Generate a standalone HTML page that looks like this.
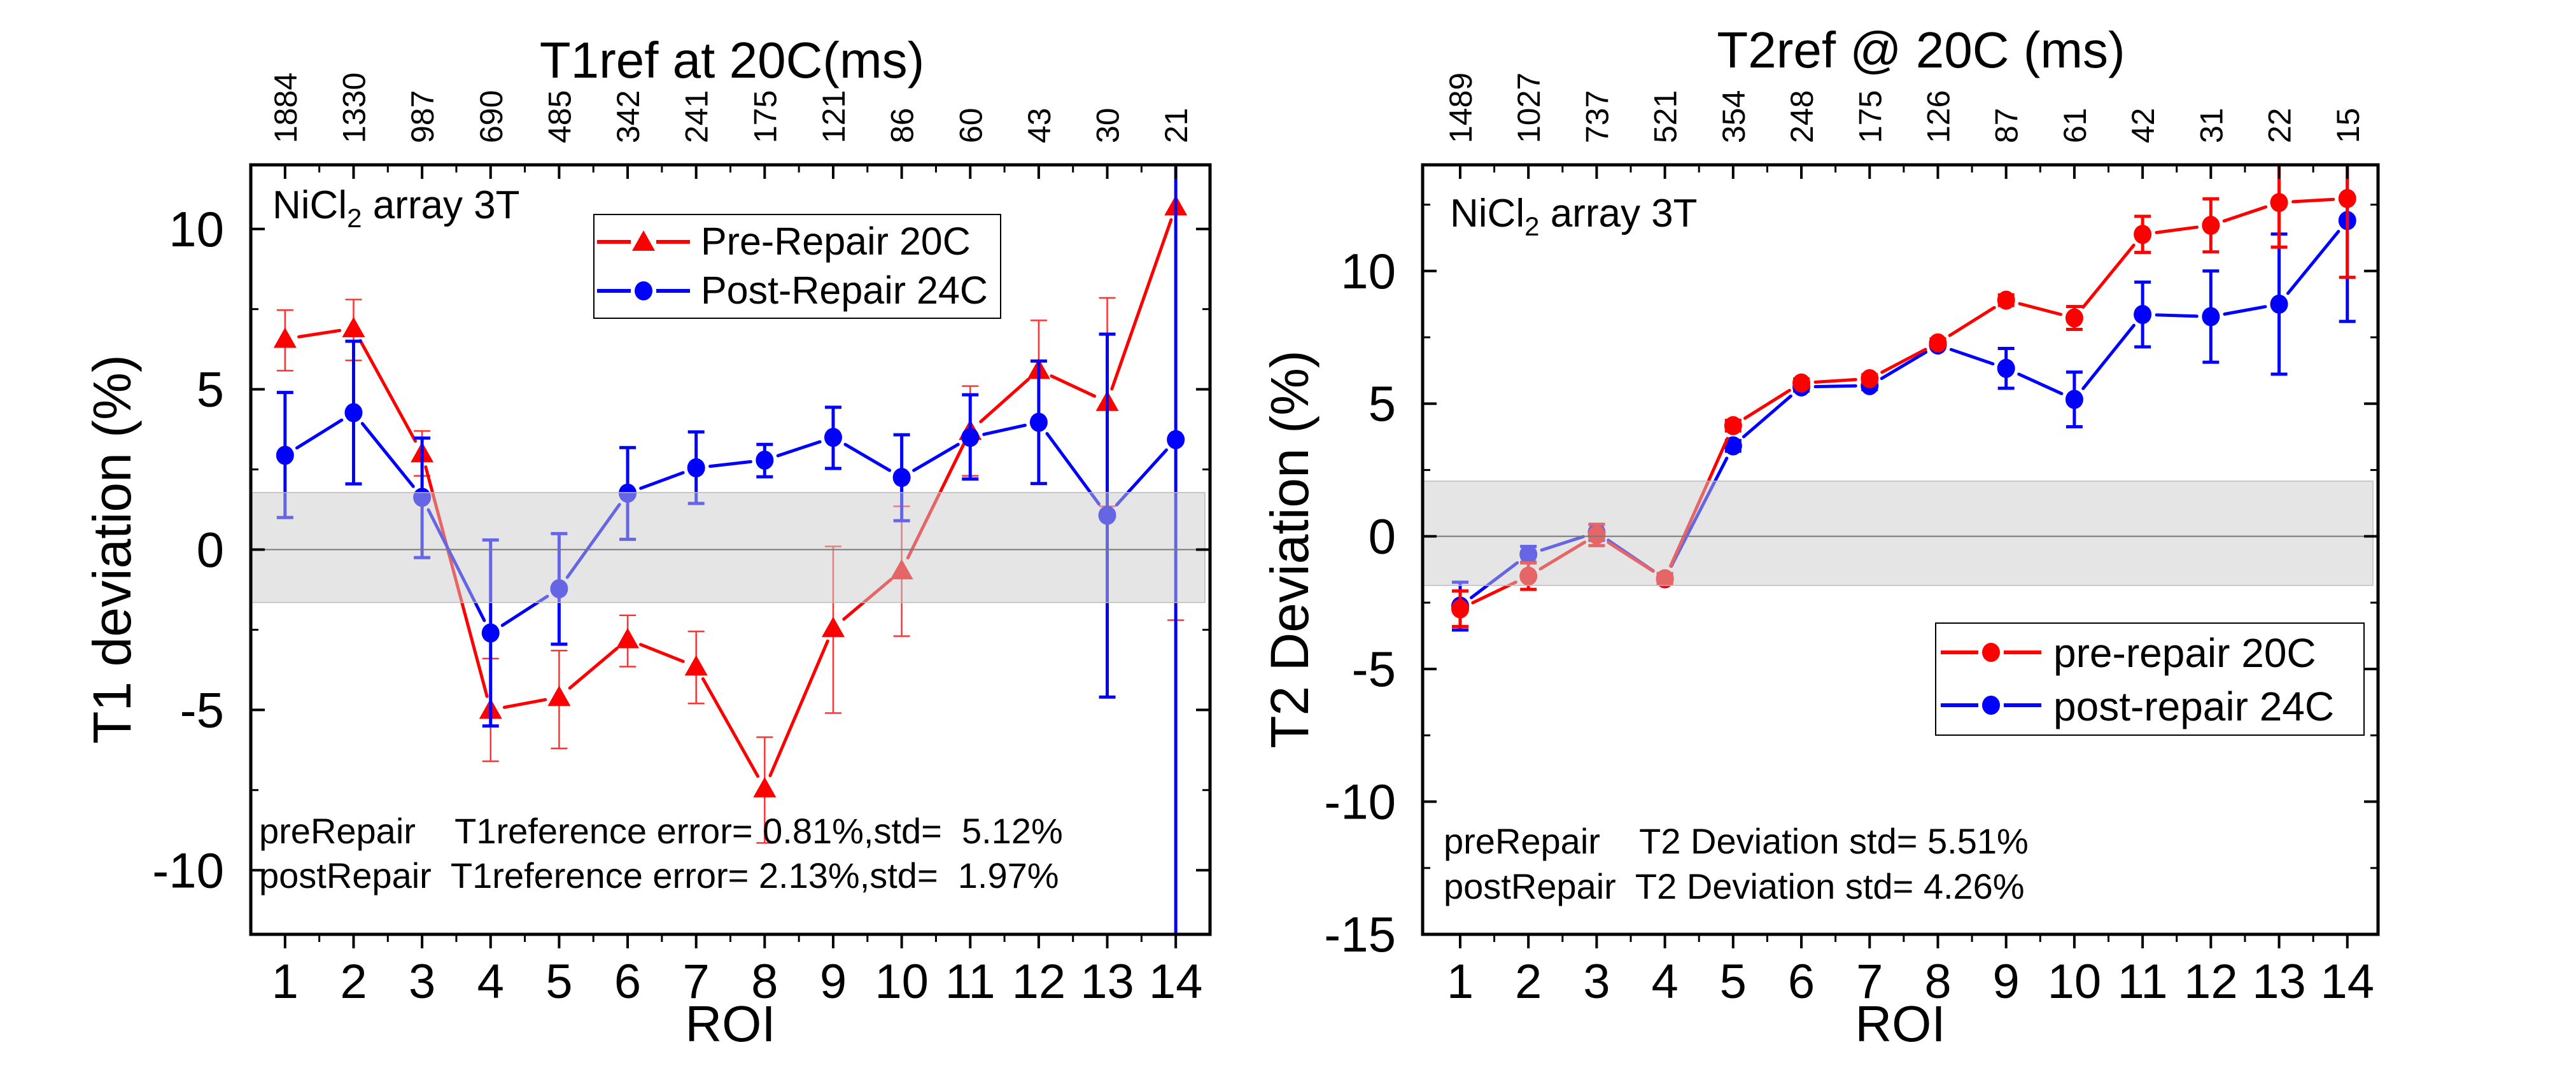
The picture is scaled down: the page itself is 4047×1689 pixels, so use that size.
<!DOCTYPE html>
<html><head><meta charset="utf-8"><title>T1/T2 deviation</title>
<style>
html,body{margin:0;padding:0;background:#fff;overflow:hidden;width:4047px;height:1689px;}
svg{display:block;position:absolute;left:0;top:0;}
.n{font-family:"Liberation Sans Narrow","Liberation Sans",sans-serif;}
.r{font-family:"Liberation Sans",sans-serif;}
</style></head>
<body>
<svg id="chart" width="4047" height="1689" viewBox="0 0 4047 1689" xmlns="http://www.w3.org/2000/svg">
<rect width="4047" height="1689" fill="#fff"/>
</svg>
<script>
// ---- data ----
const roi = [1,2,3,4,5,6,7,8,9,10,11,12,13,14];
const t1Ref = ["1884","1330","987","690","485","342","241","175","121","86","60","43","30","21"];
const t2Ref = ["1489","1027","737","521","354","248","175","126","87","61","42","31","22","15"];
const t1Pre = [6.57,6.9,3.0,-5.0,-4.6,-2.8,-3.65,-7.45,-2.45,-0.65,3.7,5.6,4.6,10.7];
const t1PreHi = [7.47,7.8,3.7,-3.4,-3.15,-2.05,-2.55,-5.85,0.1,1.35,5.1,7.15,7.85,23.6];
const t1PreLo = [5.58,5.9,2.3,-6.6,-6.2,-3.65,-4.8,-9.15,-5.1,-2.7,2.3,4.05,1.35,-2.2];
const t1Post = [2.94,4.27,1.63,-2.6,-1.22,1.76,2.55,2.79,3.5,2.25,3.5,3.97,1.07,3.43];
const t1PostHi = [4.9,6.5,3.48,0.3,0.5,3.18,3.67,3.28,4.44,3.58,4.83,5.88,6.72,25];
const t1PostLo = [1.0,2.05,-0.25,-5.5,-2.95,0.32,1.44,2.27,2.53,0.9,2.2,2.06,-4.6,-20];
const t2Pre = [-2.73,-1.5,0.05,-1.6,4.17,5.78,5.94,7.29,8.9,8.23,11.38,11.72,12.58,12.73];
const t2PreErr = [0.67,0.5,0.4,0.2,0.2,0.15,0.15,0.15,0.2,0.43,0.68,1.0,1.68,2.97];
const t2Post = [-2.63,-0.68,0.15,-1.6,3.41,5.63,5.68,7.21,6.33,5.16,8.36,8.28,8.75,11.9];
const t2PostErr = [0.9,0.3,0.3,0.15,0.2,0.15,0.15,0.1,0.75,1.03,1.22,1.72,2.64,3.8];
const t1Ticks = [-10,-5,0,5,10];
const t2Ticks = [-15,-10,-5,0,5,10];

const svg = document.getElementById('chart');
const NS = 'http://www.w3.org/2000/svg';
function mk(tag, attrs, parent){
  const e = document.createElementNS(NS, tag);
  for (const k in attrs) e.setAttribute(k, attrs[k]);
  (parent||svg).appendChild(e);
  return e;
}
function line(g,x1,y1,x2,y2,c,w){return mk('line',{x1,y1,x2,y2,stroke:c,'stroke-width':w},g);}

function panel(cfg){
  const g = mk('g',{});
  
  
  const L=cfg.L,R=cfg.R,T=259,B=1468;
  const sx = v => L + (v - cfg.x0)/(cfg.x1-cfg.x0)*(R-L);
  const sy = v => B - (v - cfg.y0)/(cfg.y1-cfg.y0)*(B-T);
  const clipId = cfg.name+'-clip';
  const cp = mk('clipPath',{id:clipId},g);
  mk('rect',{x:L,y:T,width:R-L,height:B-T},cp);
  const plot = mk('g',{'clip-path':'url(#'+clipId+')'},g);
  
  

  function series(vals,hi,lo,color,marker,ew,capw,errOpacity,nm){
    const sg = mk('g',{},plot);
    
    
    vals.forEach((v,i)=>{
      const x=sx(roi[i]);
      const e=mk('g',{opacity:errOpacity},sg);
      
      
      line(e,x,sy(hi[i]),x,sy(lo[i]),color,ew);
      line(e,x-capw/2,sy(hi[i]),x+capw/2,sy(hi[i]),color,ew);
      line(e,x-capw/2,sy(lo[i]),x+capw/2,sy(lo[i]),color,ew);
    });
    for(let i=0;i<vals.length-1;i++){
      const xa=sx(roi[i]),ya=sy(vals[i]),xb=sx(roi[i+1]),yb=sy(vals[i+1]);
      const d=Math.hypot(xb-xa,yb-ya),gap=22;
      const ux=(xb-xa)/d,uy=(yb-ya)/d;
      const s=line(sg,xa+ux*gap,ya+uy*gap,xb-ux*gap,yb-uy*gap,color,5);
      s.setAttribute('stroke-linecap','round');
      
      
    }
    vals.forEach((v,i)=>{
      const x=sx(roi[i]),y=sy(v);
      let m;
      if(marker==='tri') m=mk('polygon',{points:`${x-18},${y+14} ${x+18},${y+14} ${x},${y-18}`,fill:color},sg);
      else m=mk('ellipse',{cx:x,cy:y,rx:14,ry:15,fill:color},sg);
      
      
    });
  }
  cfg.series(series, sx, sy);
  const band=mk('rect',{x:L,y:sy(cfg.band[1]),width:R-L-8,height:sy(cfg.band[0])-sy(cfg.band[1]),fill:'#cccccc','fill-opacity':0.5,stroke:'#bbb','stroke-width':1.5},plot);
  
  
  line(plot,L,sy(0),R,sy(0),'#777',2);

  const fr=mk('rect',{x:L,y:T,width:R-L,height:B-T,fill:'none',stroke:'#000','stroke-width':5},g);
  
  
  roi.forEach((r,i)=>{
    const x=sx(r);
    line(g,x,B,x,B+22,'#000',4);
    line(g,x,T,x,T+22,'#000',4);
    if(i<roi.length-1){const xm=sx(r+0.5);line(g,xm,B,xm,B+12,'#000',3);line(g,xm,T,xm,T+12,'#000',3);}
    const t=mk('text',{x:x,y:1568,'text-anchor':'middle','font-size':76,class:'n'},g);
    t.textContent=r;
    
    
    const tt=mk('text',{x:0,y:0,'text-anchor':'start','font-size':50,class:'r',transform:`translate(${x+18},225) rotate(-90)`},g);
    tt.textContent=cfg.top[i];
    
    
  });
  cfg.yt.forEach(v=>{
    const y=sy(v);
    line(g,L,y,L+22,y,'#000',4);line(g,R,y,R-22,y,'#000',4);
    const mv=v+2.5; if(mv<cfg.y1){const ym=sy(mv);line(g,L,ym,L+12,ym,'#000',3);line(g,R,ym,R-12,ym,'#000',3);}
    const t=mk('text',{x:cfg.ylx,y:y+27,'text-anchor':'end','font-size':78,class:'n'},g);
    t.textContent=v;
    
    
  });
  const yt=mk('text',{x:0,y:0,'text-anchor':'middle','font-size':84,class:'r',transform:`translate(${cfg.ytx},${863}) rotate(-90)`},g);
  yt.textContent=cfg.ytitle;
  
  
  const xt=mk('text',{x:(L+R)/2,y:1636,'text-anchor':'middle','font-size':80,class:'n'},g);
  xt.textContent='ROI';
  
  
  const tt=mk('text',{x:cfg.ttx,y:cfg.tty,'text-anchor':'middle','font-size':80,class:'n'},g);
  tt.textContent=cfg.ttitle;
  
  
  const an=mk('text',{x:cfg.anx,y:cfg.any,'font-size':62,class:'n'},g);
  an.innerHTML='NiCl<tspan font-size="42" dy="14">2</tspan><tspan dy="-14"> array 3T</tspan>';
  
  
  cfg.stats.forEach((s,i)=>{
    const t=mk('text',{x:cfg.stx,y:cfg.sty[i],'font-size':56,class:'n'},g);
    t.textContent=s;
    t.setAttribute('style','white-space:pre');
    
    
  });
  const lg=mk('g',{},g);
  
  
  const Lb=cfg.leg;
  mk('rect',{x:Lb.x,y:Lb.y,width:Lb.w,height:Lb.h,fill:'#fff',stroke:'#000','stroke-width':2},lg);
  Lb.items.forEach((it,i)=>{
    const e=mk('g',{},lg);
    
    
    const y=Lb.cy[i], M=Lb.m;
    line(e,Lb.lx,y,Lb.lx+M-20,y,it.c,6);line(e,Lb.lx+M+20,y,Lb.lx+2*M,y,it.c,6);
    const cx=Lb.lx+M;
    if(it.m==='tri') mk('polygon',{points:`${cx-18},${y+14} ${cx+18},${y+14} ${cx},${y-18}`,fill:it.c},e);
    else mk('ellipse',{cx:cx,cy:y,rx:14,ry:15,fill:it.c},e);
    const t=mk('text',{x:Lb.tx,y:Lb.by[i],'font-size':Lb.fs,class:'n'},e);
    t.textContent=it.t;
  });
}

panel({name:'t1-panel',L:394,R:1901,x0:0.5,x1:14.5,y0:-12,y1:12,yt:t1Ticks,top:t1Ref,
  ylx:352,ytx:205,ytitle:'T1 deviation (%)',ttx:1150,tty:122,ttitle:'T1ref at 20C(ms)',
  band:[-1.65,1.78],anx:428,any:343,stx:407,sty:[1325,1395],
  stats:['preRepair    T1reference error= 0.81%,std=  5.12%','postRepair  T1reference error= 2.13%,std=  1.97%'],
  leg:{x:933,y:337,w:639,h:163,lx:938,m:73,tx:1101,cy:[380,457],by:[400,477],fs:61,
    items:[{t:'Pre-Repair 20C',c:'#ff0000',m:'tri'},{t:'Post-Repair 24C',c:'#0000ff',m:'circ'}]},
  series:(S)=>{
    S(t1Pre,t1PreHi,t1PreLo,'#ff0000','tri',2.5,26,0.8,'pre-repair-series');
    S(t1Post,t1PostHi,t1PostLo,'#0000ff','circ',5,26,1,'post-repair-series');
  }});

const t2PreHi=t2Pre.map((v,i)=>v+t2PreErr[i]), t2PreLo=t2Pre.map((v,i)=>v-t2PreErr[i]);
const t2PostHi=t2Post.map((v,i)=>v+t2PostErr[i]), t2PostLo=t2Post.map((v,i)=>v-t2PostErr[i]);
panel({name:'t2-panel',L:2235,R:3736,x0:0.45,x1:14.45,y0:-15,y1:14.0,yt:t2Ticks,top:t2Ref,
  ylx:2193,ytx:2055,ytitle:'T2 Deviation (%)',ttx:3018,tty:106,ttitle:'T2ref @ 20C (ms)',
  band:[-1.85,2.08],anx:2278,any:356,stx:2268,sty:[1341,1412],
  stats:['preRepair    T2 Deviation std= 5.51%','postRepair  T2 Deviation std= 4.26%'],
  leg:{x:3041,y:979,w:673,h:176,lx:3049,m:79,tx:3226,cy:[1025,1108],by:[1048,1132],fs:64,
    items:[{t:'pre-repair 20C',c:'#ff0000',m:'circ'},{t:'post-repair 24C',c:'#0000ff',m:'circ'}]},
  series:(S)=>{
    S(t2Post,t2PostHi,t2PostLo,'#0000ff','circ',5,26,1,'post-repair-series');
    S(t2Pre,t2PreHi,t2PreLo,'#ff0000','circ',5,26,1,'pre-repair-series');
  }});
</script>
</body></html>
